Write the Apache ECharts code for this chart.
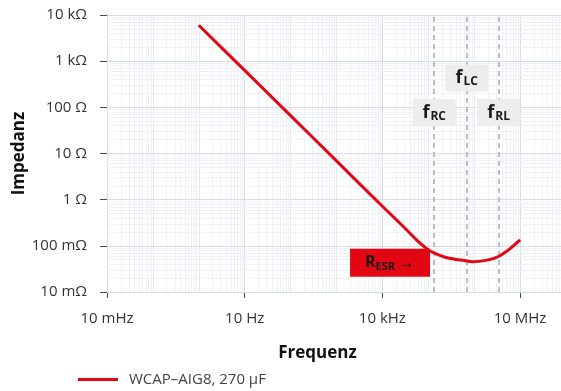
<!DOCTYPE html>
<html>
<head>
<meta charset="utf-8">
<script src="https://cdn.jsdelivr.net/npm/echarts@6/dist/echarts.min.js"></script>
<style>
  html, body { margin: 0; padding: 0; background: #ffffff; }
  #chart { width: 561px; height: 391px; }
</style>
</head>
<body>
<div id="chart"></div>
<script>
// Impedance curve of the capacitor (frequency in Hz, impedance in ohm)
const seriesName = 'WCAP–AIG8, 270 µF';
const frequencies = [1, 10, 100, 1e3, 1e4, 2e4, 3.4e4, 6e4, 9.4e4, 1.33e5, 2.55e5, 7e5, 9.4e5, 1.9e6, 3.3e6, 6e6, 1e7];
const impedances  = [6000, 630, 66, 6.9, 0.72, 0.37, 0.22, 0.125, 0.086, 0.070, 0.055, 0.047, 0.045, 0.049, 0.058, 0.086, 0.134];

// Axis ticks
const xTickValues = [0.01, 10, 1e4, 1e7];
const xTickLabels = ['10 mHz', '10 Hz', '10 kHz', '10 MHz'];
const yTickValues = [0.01, 0.1, 1, 10, 100, 1000, 10000];
const yTickLabels = ['10 mΩ', '100 mΩ', '1 Ω', '10 Ω', '100 Ω', '1 kΩ', '10 kΩ'];

// Characteristic frequencies (Hz) and their names
const cornerFreqs = [1.35e5, 6.87e5, 3.42e6];
const cornerNames = ['RC', 'LC', 'RL'];

const FONT = '"Open Sans", "Noto Sans", sans-serif';
const RED = '#e30613';
const X_MIN = 0.01, X_MAX = 7.8e7, Y_MIN = 0.01, Y_MAX = 10000;

function labelFor(values, labels) {
  return function (v) {
    let best = 0, bestD = Infinity;
    values.forEach((t, i) => {
      const d = Math.abs(Math.log10(t) - Math.log10(v));
      if (d < bestD) { bestD = d; best = i; }
    });
    return bestD < 0.01 ? labels[best] : '';
  };
}

// Log-paper grid: lines at 1..9 x 10^e
const C_MINOR = '#eef1f5', C_DECADE = '#e5e9ee', C_MAJOR = '#d6dde5';
const gridLines = [];
for (let e = -2; e <= 7; e++) {
  for (let m = 1; m <= 9; m++) {
    const v = m * Math.pow(10, e);
    if (v > X_MAX) break;
    let c = C_MINOR;
    if (m === 1) c = ((e + 2) % 3 === 0) ? C_MAJOR : C_DECADE;
    gridLines.push({ xAxis: v, lineStyle: { color: c, width: 1, type: 'solid' } });
  }
}
for (let e = -2; e <= 4; e++) {
  for (let m = 1; m <= 9; m++) {
    const v = m * Math.pow(10, e);
    if (v > Y_MAX) break;
    gridLines.push({ yAxis: v, lineStyle: { color: m === 1 ? C_MAJOR : C_MINOR, width: 1, type: 'solid' } });
  }
}

const chart = echarts.init(document.getElementById('chart'), null, { renderer: 'canvas' });

const subLabel = {
  show: true,
  position: 'inside',
  rich: {
    f: { fontFamily: FONT, fontSize: 18, fontWeight: 'bold', color: '#1a1a1a' },
    s: { fontFamily: FONT, fontSize: 12, fontWeight: 'bold', color: '#1a1a1a', padding: [8, 0, 0, 1] }
  }
};

const yAxisBase = {
  type: 'log',
  logBase: 10,
  min: Y_MIN,
  max: Y_MAX,
  position: 'left',
  splitLine: { show: false }
};

chart.setOption({
  animation: false,
  textStyle: { fontFamily: FONT },
  grid: { left: 107, right: 0, top: 15, bottom: 99, containLabel: false, outerBoundsMode: 'none' },
  legend: {
    data: [seriesName],
    left: 73,
    top: 367,
    icon: 'rect',
    itemWidth: 40,
    itemHeight: 3,
    textStyle: { fontFamily: FONT, fontSize: 15, color: '#444', padding: [0, 0, 0, 6] }
  },
  xAxis: {
    type: 'log',
    logBase: 10,
    min: X_MIN,
    max: X_MAX,
    name: 'Frequenz',
    nameLocation: 'middle',
    nameGap: 53,
    nameTextStyle: { fontFamily: FONT, fontSize: 17, fontWeight: 'bold', color: '#111', padding: [0, 33, 0, 0] },
    axisLine: { show: true, lineStyle: { color: '#4a4a4a', width: 1 } },
    axisTick: { show: true, length: 6, lineStyle: { color: '#4a4a4a', width: 1 }, customValues: xTickValues },
    axisLabel: {
      customValues: xTickValues,
      formatter: labelFor(xTickValues, xTickLabels),
      fontFamily: FONT, fontSize: 15, color: '#333', margin: 19
    },
    splitLine: { show: false },
    minorTick: { show: false }
  },
  yAxis: [
    Object.assign({}, yAxisBase, {
      axisLine: { show: true, lineStyle: { color: '#4a4a4a', width: 1 } },
      axisTick: { show: true, length: 7, lineStyle: { color: '#4a4a4a', width: 1 }, customValues: yTickValues },
      axisLabel: {
        customValues: yTickValues,
        formatter: labelFor(yTickValues, yTickLabels),
        fontFamily: FONT, fontSize: 15, color: '#333', margin: 20
      }
    }),
    // Carries only the axis title, so the title keeps its own place
    Object.assign({}, yAxisBase, {
      name: 'Impedanz',
      nameLocation: 'middle',
      nameRotate: 90,
      nameGap: 79,
      nameTextStyle: { fontFamily: FONT, fontSize: 17, fontWeight: 'bold', color: '#111' },
      axisLine: { show: false },
      axisTick: { show: false },
      axisLabel: { show: false }
    })
  ],
  series: [
    {
      name: 'gridlines',
      type: 'line',
      data: [],
      z: 1,
      silent: true,
      markLine: {
        z: 1,
        silent: true,
        symbol: ['none', 'none'],
        label: { show: false },
        emphasis: { disabled: true },
        animation: false,
        data: gridLines
      }
    },
    {
      name: 'corners',
      type: 'line',
      data: [],
      z: 2,
      silent: true,
      markLine: {
        z: 2,
        silent: true,
        symbol: ['none', 'none'],
        label: { show: false },
        emphasis: { disabled: true },
        animation: false,
        lineStyle: { color: '#a9a9a9', width: 1.5, type: [5, 4] },
        data: cornerFreqs.map(f => ({ xAxis: f }))
      }
    },
    {
      name: seriesName,
      type: 'line',
      z: 3,
      data: frequencies.map((f, i) => [f, impedances[i]]),
      showSymbol: false,
      smooth: 0.3,
      lineStyle: { color: RED, width: 3 },
      itemStyle: { color: RED }
    },
    {
      name: 'labels',
      type: 'line',
      data: [],
      z: 4,
      silent: true,
      markPoint: {
        z: 10,
        silent: true,
        animation: false,
        data: [
          { coord: [cornerFreqs[0], 77], symbol: 'rect', symbolSize: [43, 27],
            itemStyle: { color: '#ededed' }, label: Object.assign({ formatter: '{f|f}{s|' + cornerNames[0] + '}' }, subLabel) },
          { coord: [cornerFreqs[1], 433], symbol: 'rect', symbolSize: [43, 27],
            itemStyle: { color: '#ededed' }, label: Object.assign({ formatter: '{f|f}{s|' + cornerNames[1] + '}' }, subLabel) },
          { coord: [cornerFreqs[2], 77], symbol: 'rect', symbolSize: [43, 27],
            itemStyle: { color: '#ededed' }, label: Object.assign({ formatter: '{f|f}{s|' + cornerNames[2] + '}' }, subLabel) },
          { coord: [1.47e4, 0.043], symbol: 'rect', symbolSize: [80, 28],
            itemStyle: { color: RED },
            label: {
              show: true, position: 'inside',
              formatter: '{r|R}{s|ESR}{a|→}',
              rich: {
                r: { fontFamily: FONT, fontSize: 16, fontWeight: 'bold', color: '#1a1a1a' },
                s: { fontFamily: FONT, fontSize: 11, fontWeight: 'bold', color: '#1a1a1a', padding: [8, 0, 0, 0] },
                a: { fontFamily: FONT, fontSize: 17, color: '#1a1a1a', padding: [0, 0, 0, 3] }
              }
            } }
        ]
      }
    }
  ]
});
</script>
</body>
</html>
